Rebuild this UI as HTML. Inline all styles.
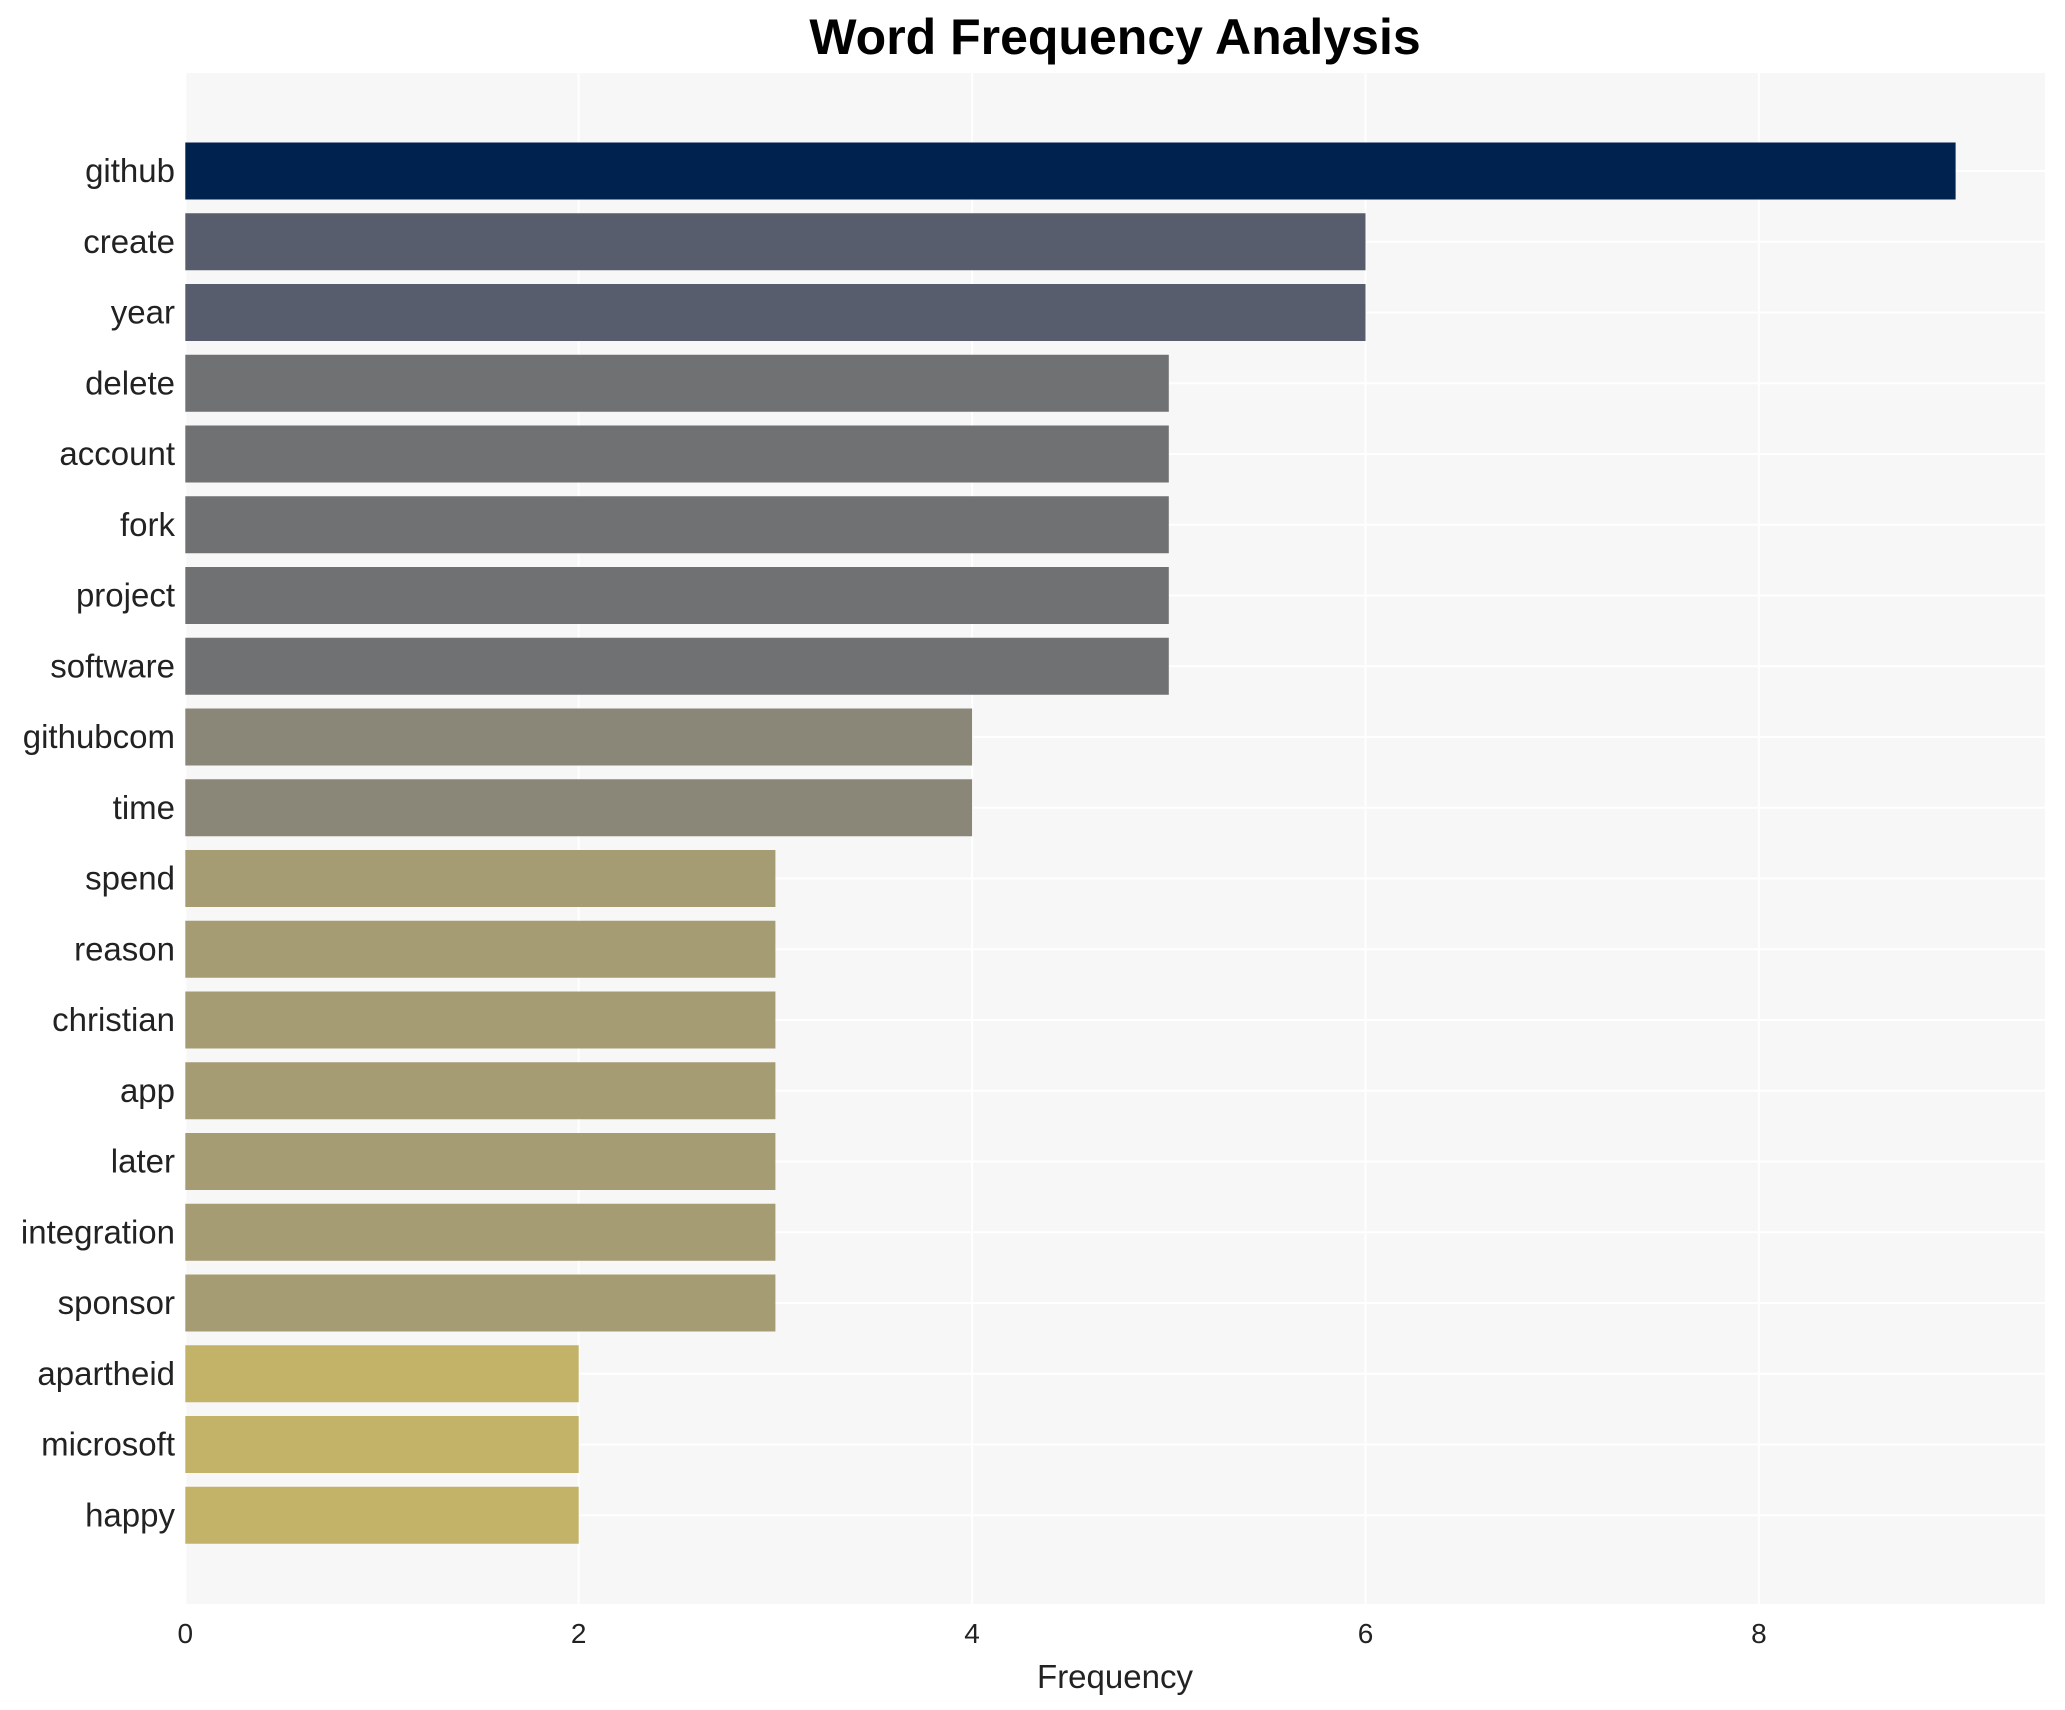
<!DOCTYPE html>
<html><head><meta charset="utf-8"><style>
body{margin:0;background:#fff;}
svg{display:block;font-family:"Liberation Sans",sans-serif;}
</style></head><body>
<svg id="chart" width="2065" height="1710">
<rect x="185" y="73" width="1860" height="1531" fill="#f7f7f7"/>
<g id="grid"></g><g id="bars"></g><g id="ylabels"></g><g id="xticks"></g>
<text x="1115" y="54" text-anchor="middle" font-size="50" font-weight="bold" fill="#000">Word Frequency Analysis</text>
<text x="1115" y="1688" text-anchor="middle" font-size="33" fill="#222">Frequency</text>
</svg>
<script>
const categories=["github","create","year","delete","account","fork","project","software","githubcom","time","spend","reason","christian","app","later","integration","sponsor","apartheid","microsoft","happy"];
const values=[9,6,6,5,5,5,5,5,4,4,3,3,3,3,3,3,3,2,2,2];
const xTicks=[0,2,4,6,8];
const colorByValue={9:"#00224e",6:"#575d6d",5:"#707173",4:"#8a8678",3:"#a59c74",2:"#c3b369"};
const NS="http://www.w3.org/2000/svg";
const x0=185.3,unit=196.7,yc0=171,pitch=70.75,bh=57;
const xs=v=>x0+v*unit, ys=i=>yc0+i*pitch;
function mk(t,a,p){const e=document.createElementNS(NS,t);for(const k in a)e.setAttribute(k,a[k]);document.getElementById(p).appendChild(e);return e;}
xTicks.forEach((t,i)=>{
 const l=mk('line',{x1:xs(t),x2:xs(t),y1:73,y2:1604,stroke:'#fff','stroke-width':2},'grid');
 
 
 const tx=mk('text',{x:xs(t),y:1643,'text-anchor':'middle','font-size':28,fill:'#222'},'xticks');
 tx.textContent=t;
 
 
});
categories.forEach((c,i)=>{
 const g=mk('line',{x1:185,x2:2045,y1:ys(i),y2:ys(i),stroke:'#fff','stroke-width':2},'grid');
 
 
 const r=mk('rect',{x:x0,y:ys(i)-bh/2,width:xs(values[i])-x0,height:bh,fill:colorByValue[values[i]]||'#888'},'bars');
 
 
 const t=mk('text',{x:175,y:ys(i)+11,'text-anchor':'end','font-size':33,fill:'#222'},'ylabels');
 t.textContent=c;
 
 
});
</script>
</body></html>
